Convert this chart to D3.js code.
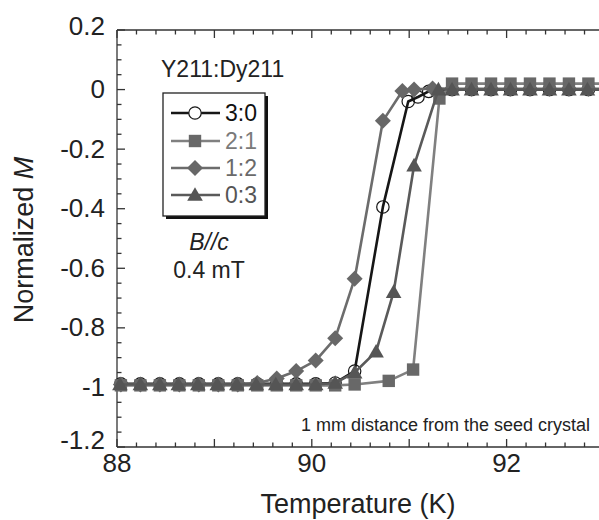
<!DOCTYPE html>
<html>
<head>
<meta charset="utf-8">
<script src="https://cdn.jsdelivr.net/npm/d3@7"></script>
<style>
  html, body { margin: 0; padding: 0; background: #fff; }
  svg { display: block; font-family: "Liberation Sans", Arial, sans-serif; }
</style>
</head>
<body>
<svg id="chart" width="599" height="520"></svg>
<script>
// Temperature (K) and normalized magnetization for each Y211:Dy211 ratio
const T_30 = [88.04, 88.24, 88.44, 88.64, 88.84, 89.04, 89.24, 89.44, 89.64, 89.84, 90.04, 90.24, 90.44, 90.73, 90.99, 91.09, 91.2, 91.44, 91.64, 91.84, 92.04, 92.24, 92.44, 92.64, 92.84, 93.04];
const M_30 = [-0.988, -0.988, -0.988, -0.988, -0.988, -0.988, -0.988, -0.988, -0.988, -0.988, -0.988, -0.985, -0.945, -0.394, -0.04, -0.025, -0.006, 0, 0, 0, 0, 0, 0, 0, 0, 0];

const T_21 = [88.04, 88.24, 88.44, 88.64, 88.84, 89.04, 89.24, 89.44, 89.64, 89.84, 90.04, 90.24, 90.44, 90.79, 91.04, 91.31, 91.44, 91.64, 91.84, 92.04, 92.24, 92.44, 92.64, 92.84, 93.04];
const M_21 = [-0.993, -0.993, -0.993, -0.993, -0.993, -0.993, -0.993, -0.993, -0.993, -0.993, -0.993, -0.993, -0.99, -0.978, -0.94, -0.03, 0.02, 0.02, 0.02, 0.02, 0.02, 0.02, 0.02, 0.02, 0.02];

const T_12 = [88.04, 88.24, 88.44, 88.64, 88.84, 89.04, 89.24, 89.44, 89.64, 89.84, 90.04, 90.24, 90.44, 90.73, 90.93, 91.05, 91.24, 91.44, 91.64, 91.84, 92.04, 92.24, 92.44, 92.64, 92.84, 93.04];
const M_12 = [-0.99, -0.99, -0.99, -0.99, -0.99, -0.99, -0.99, -0.985, -0.97, -0.945, -0.91, -0.835, -0.635, -0.105, -0.005, 0, 0.004, 0.003, 0.003, 0.003, 0.003, 0.003, 0.003, 0.003, 0.003, 0.003];

const T_03 = [88.03, 88.24, 88.44, 88.63, 88.83, 89.03, 89.23, 89.43, 89.63, 89.84, 90.04, 90.24, 90.44, 90.66, 90.84, 91.05, 91.3, 91.44, 91.64, 91.84, 92.04, 92.24, 92.44, 92.64, 92.83, 93.03];
const M_03 = [-0.99, -0.99, -0.99, -0.99, -0.99, -0.99, -0.99, -0.99, -0.99, -0.99, -0.99, -0.985, -0.95, -0.88, -0.68, -0.255, 0, 0, 0, 0, 0, 0, 0, 0, 0, 0];

const seriesNames = ["3:0", "2:1", "1:2", "0:3"];
const xTickLabels = [88, 90, 92];
const yTickLabels = [0.2, 0, -0.2, -0.4, -0.6, -0.8, -1, -1.2];

const svg = d3.select("#chart");
const plotLeft = 117, plotTop = 30, plotBottom = 447;
const x = d3.scaleLinear().domain([88, 93]).range([plotLeft, plotLeft + 5 * 97.4]);
const y = d3.scaleLinear().domain([-1.2, 0.2]).range([plotBottom, plotTop]);

const axisColor = "#333";

// Frame: left, bottom, top edges (right edge runs past the view)
const frame = svg.append("g").attr("stroke", axisColor).attr("stroke-width", 1.3).attr("fill", "none");
frame.append("line").attr("x1", plotLeft).attr("x2", plotLeft).attr("y1", plotTop).attr("y2", plotBottom);
frame.append("line").attr("x1", plotLeft).attr("x2", 620).attr("y1", plotBottom).attr("y2", plotBottom);
frame.append("line").attr("x1", plotLeft).attr("x2", 620).attr("y1", plotTop).attr("y2", plotTop);

// Ticks pointing inward
const xTicks = d3.range(0, 26).map(i => 88 + i * 0.2);
const yTicks = d3.range(0, 29).map(i => -1.2 + i * 0.05);
const isMajorX = v => Math.abs(v - Math.round(v)) < 1e-6;
const isMajorY = v => Math.abs(v / 0.2 - Math.round(v / 0.2)) < 1e-6;

xTicks.forEach(v => {
  const len = isMajorX(v) ? 8 : 4.5;
  frame.append("line").attr("x1", x(v)).attr("x2", x(v)).attr("y1", plotBottom).attr("y2", plotBottom - len);
  frame.append("line").attr("x1", x(v)).attr("x2", x(v)).attr("y1", plotTop).attr("y2", plotTop + len);
});
yTicks.forEach(v => {
  const len = isMajorY(v) ? 8 : 4.5;
  frame.append("line").attr("x1", plotLeft).attr("x2", plotLeft + len).attr("y1", y(v)).attr("y2", y(v));
});

// Tick labels (the end labels sit slightly above their ticks)
svg.append("g").selectAll("text").data(xTickLabels).join("text")
  .attr("x", d => x(d)).attr("y", plotBottom + 25)
  .attr("text-anchor", "middle").attr("font-size", 26).attr("fill", "#222")
  .text(d => d);
svg.append("g").selectAll("text").data(yTickLabels).join("text")
  .attr("x", plotLeft - 12)
  .attr("y", (d, i) => y(d) + (i === 0 ? -4 : i === yTickLabels.length - 1 ? -7 : 0))
  .attr("dy", "0.33em")
  .attr("text-anchor", "end").attr("font-size", 26).attr("fill", "#222")
  .text(d => d);

// Axis titles
svg.append("text").attr("x", 358).attr("y", 513).attr("text-anchor", "middle")
  .attr("font-size", 27).attr("fill", "#222").text("Temperature (K)");
const yl = svg.append("text").attr("transform", "translate(33,240) rotate(-90)")
  .attr("text-anchor", "middle").attr("font-size", 27).attr("fill", "#222");
yl.append("tspan").text("Normalized ");
yl.append("tspan").attr("font-style", "italic").text("M");

// Series styles
const styles = [
  { name: seriesNames[0], T: T_30, M: M_30, line: "#161616", fill: "none", stroke: "#161616", shape: "circle", text: "#111" },
  { name: seriesNames[2], T: T_12, M: M_12, line: "#6c6c6c", fill: "#676767", stroke: "none", shape: "diamond", text: "#6a6a6a" },
  { name: seriesNames[1], T: T_21, M: M_21, line: "#808080", fill: "#686868", stroke: "none", shape: "square", text: "#7a7a7a" },
  { name: seriesNames[3], T: T_03, M: M_03, line: "#5a5a5a", fill: "#555", stroke: "none", shape: "triangle", text: "#555" }
];

function marker(g, shape, cx, cy, fill, stroke, scale) {
  const s = scale || 1;
  if (shape === "circle") {
    g.append("circle").attr("cx", cx).attr("cy", cy).attr("r", 6.2 * s)
      .attr("fill", fill).attr("stroke", stroke).attr("stroke-width", 1.2);
  } else if (shape === "square") {
    const h = 6.2 * s;
    g.append("rect").attr("x", cx - h).attr("y", cy - h).attr("width", 2 * h).attr("height", 2 * h).attr("fill", fill);
  } else if (shape === "diamond") {
    const h = 8 * s;
    g.append("path").attr("d", `M${cx},${cy - h}L${cx + h},${cy}L${cx},${cy + h}L${cx - h},${cy}Z`).attr("fill", fill);
  } else if (shape === "triangle") {
    const h = 7.8 * s;
    g.append("path").attr("d", `M${cx},${cy - h}L${cx + h},${cy + h * 0.75}L${cx - h},${cy + h * 0.75}Z`).attr("fill", fill);
  }
}

const plot = svg.append("g");
const lineGen = d3.line().x(d => x(d[0])).y(d => y(d[1]));
styles.forEach(s => {
  const pts = s.T.map((t, i) => [t, s.M[i]]);
  const g = plot.append("g");
  g.append("path").attr("d", lineGen(pts)).attr("fill", "none")
    .attr("stroke", s.line).attr("stroke-width", 2.6).attr("stroke-linejoin", "round");
  pts.forEach(p => marker(g, s.shape, x(p[0]), y(p[1]), s.fill, s.stroke));
});

// Sample label
svg.append("text").attr("x", 161).attr("y", 77).attr("font-size", 23).attr("fill", "#222").text("Y211:Dy211");

// Legend with drop shadow
const lg = svg.append("g");
lg.append("rect").attr("x", 166).attr("y", 96).attr("width", 102).attr("height", 123).attr("fill", "#111");
lg.append("rect").attr("x", 163).attr("y", 93).attr("width", 102).attr("height", 123)
  .attr("fill", "#fff").attr("stroke", "#222").attr("stroke-width", 1.3);
const legendOrder = [styles[0], styles[2], styles[1], styles[3]];
const rowY = [113, 141, 168, 195];
legendOrder.forEach((s, i) => {
  const ry = rowY[i];
  lg.append("line").attr("x1", 171).attr("x2", 220).attr("y1", ry).attr("y2", ry)
    .attr("stroke", s.line).attr("stroke-width", 2.6);
  marker(lg, s.shape, 195, ry, s.shape === "circle" ? "#fff" : s.fill, s.stroke);
  lg.append("text").attr("x", 225).attr("y", ry).attr("dy", "0.35em")
    .attr("font-size", 23).attr("fill", s.text).text(s.name);
});

// Field annotation
svg.append("text").attr("x", 209).attr("y", 250).attr("text-anchor", "middle")
  .attr("font-size", 23).attr("font-style", "italic").attr("fill", "#222").text("B//c");
svg.append("text").attr("x", 209).attr("y", 278).attr("text-anchor", "middle")
  .attr("font-size", 23).attr("fill", "#222").text("0.4 mT");

svg.append("text").attr("x", 590).attr("y", 431).attr("text-anchor", "end")
  .attr("font-size", 18).attr("fill", "#222").text("1 mm distance from the seed crystal");
</script>
</body>
</html>
